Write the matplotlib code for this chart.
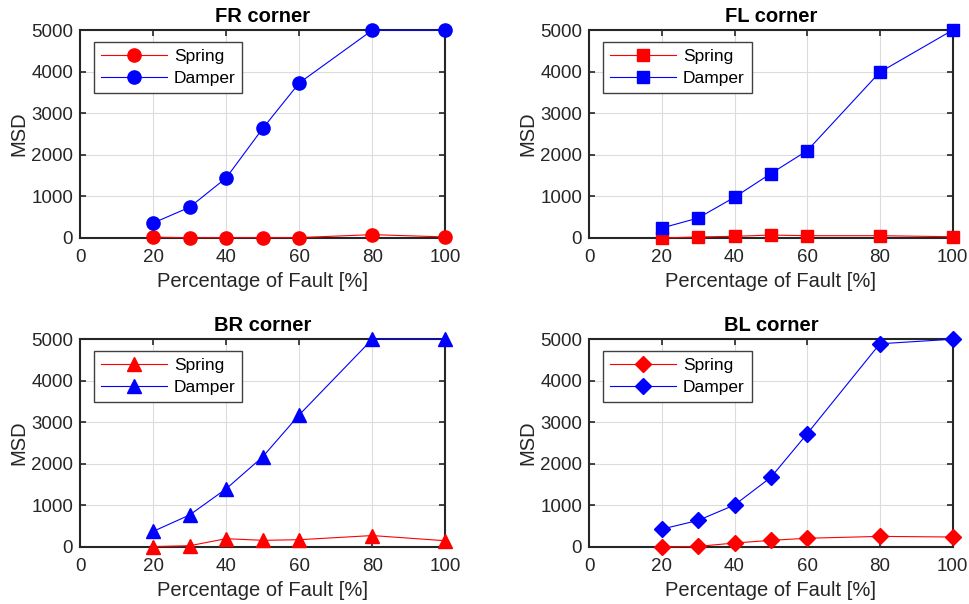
import matplotlib
matplotlib.use("Agg")
import matplotlib.pyplot as plt

plt.rcParams["font.family"] = ["Liberation Sans", "DejaVu Sans"]

fault_pct = [20, 30, 40, 50, 60, 80, 100]

fr_spring = [20, 5, 10, 10, 10, 80, 25]
fr_damper = [360, 740, 1445, 2635, 3730, 5000, 5000]

fl_spring = [0, 25, 40, 70, 55, 55, 30]
fl_damper = [240, 480, 980, 1550, 2100, 3990, 5000]

br_spring = [10, 30, 200, 160, 175, 275, 150]
br_damper = [375, 770, 1400, 2170, 3180, 5000, 5000]

bl_spring = [0, 15, 95, 160, 210, 255, 240]
bl_damper = [430, 640, 1010, 1675, 2725, 4890, 5000]

panels = [
    ("FR corner", fr_spring, fr_damper, "o", 9.5),
    ("FL corner", fl_spring, fl_damper, "s", 8),
    ("BR corner", br_spring, br_damper, "^", 10),
    ("BL corner", bl_spring, bl_damper, "D", 8),
]

# axes rectangles in figure fraction (left, bottom, width, height)
rects = [
    (0.0826, 0.606, 0.377, 0.344),
    (0.608, 0.606, 0.375, 0.344),
    (0.0826, 0.0944, 0.377, 0.344),
    (0.608, 0.0944, 0.375, 0.344),
]

text_col = "#262626"

fig = plt.figure(figsize=(9.69, 6.04), dpi=100)
for (title, spring, damper, marker, ms), rect in zip(panels, rects):
    ax = fig.add_axes(rect)
    ax.plot(fault_pct, spring, color="red", lw=0.8, marker=marker, ms=ms,
            label="Spring", clip_on=False, zorder=3)
    ax.plot(fault_pct, damper, color="blue", lw=0.8, marker=marker, ms=ms,
            label="Damper", clip_on=False, zorder=3)
    ax.set_xlim(0, 100)
    ax.set_ylim(0, 5000)
    ax.set_xticks([0, 20, 40, 60, 80, 100])
    ax.set_yticks([0, 1000, 2000, 3000, 4000, 5000])
    ax.grid(True, color="#dcdcdc", lw=0.8)
    ax.set_axisbelow(True)
    ax.tick_params(direction="in", top=True, right=True, length=4, width=1.2,
                   labelsize=13.5, colors=text_col)
    ax.tick_params(axis="x", pad=8)
    ax.tick_params(axis="y", pad=5)
    for sp in ax.spines.values():
        sp.set_linewidth(1.5)
        sp.set_color(text_col)
    ax.set_title(title, fontsize=14.5, fontweight="bold", pad=6)
    ax.set_xlabel("Percentage of Fault [%]", fontsize=14.5, color=text_col, labelpad=4)
    ax.set_ylabel("MSD", fontsize=14.5, color=text_col, labelpad=2)
    leg = ax.legend(loc="upper left", bbox_to_anchor=(0.038, 0.942), borderaxespad=0,
                    fontsize=12.5, fancybox=False, framealpha=1, edgecolor="#404040",
                    handlelength=3.8, handletextpad=0.4, borderpad=0.4,
                    labelspacing=0.4)
    leg.get_frame().set_linewidth(1.0)

fig.savefig("out.png", dpi=100)
